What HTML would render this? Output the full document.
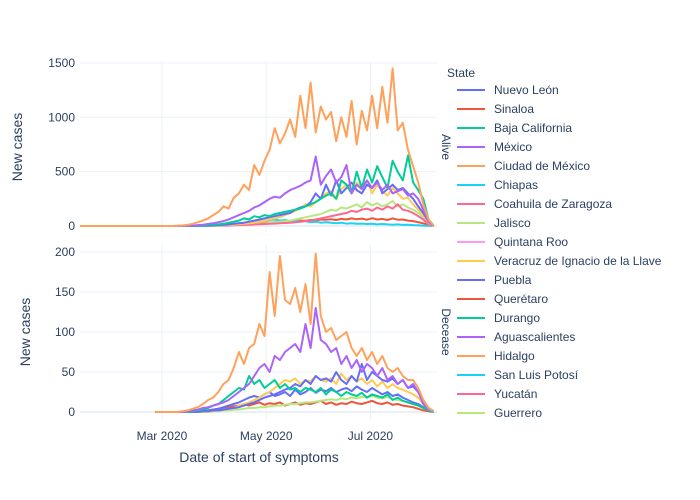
<!DOCTYPE html>
<html><head><meta charset="utf-8">
<style>
body{margin:0;background:#fff;}
svg{display:block;font-family:"Liberation Sans",sans-serif;fill:#2a3f5f;}
</style></head>
<body>
<svg id="chart" width="700" height="500" xmlns="http://www.w3.org/2000/svg">
<rect width="700" height="500" fill="#fff"/>
<g id="grid"></g>
<g id="series"></g>
<g id="axes"></g>
<g id="legend"></g>
</svg>
<script>
const states=["Nuevo León","Sinaloa","Baja California","México","Ciudad de México","Chiapas","Coahuila de Zaragoza","Jalisco","Quintana Roo","Veracruz de Ignacio de la Llave","Puebla","Querétaro","Durango","Aguascalientes","Hidalgo","San Luis Potosí","Yucatán","Guerrero"];
const colors=["#636EFA","#EF553B","#00CC96","#AB63FA","#FFA15A","#19D3F3","#FF6692","#B6E880","#FF97FF","#FECB52"];
const xTicks=[{label:"Mar 2020",day:48},{label:"May 2020",day:109},{label:"Jul 2020",day:170}];
const yTicksAlive=[0,500,1000,1500];
const yTicksDead=[0,50,100,150,200];
// sample days: 54,57,...,207 (days since 2020-01-13)
const aliveNL=[0,0,0,0,0,1,2,3,5,8,10,15,20,25,30,40,50,60,70,80,90,100,110,120,150,170,180,220,300,250,380,280,420,300,350,400,330,300,380,350,420,300,340,380,330,350,300,250,180,120,40,5];
const aliveSin=[0,0,0,0,1,2,3,4,5,8,10,12,15,18,20,22,25,28,30,32,35,38,40,42,45,50,48,55,52,60,58,62,55,65,60,70,62,68,58,72,60,65,55,70,58,60,50,45,35,25,10,2];
const aliveBC=[0,0,0,0,1,2,4,6,10,15,20,30,40,50,70,60,90,80,100,90,110,120,130,140,150,160,180,200,220,250,280,300,250,420,380,300,500,350,520,400,550,450,350,600,500,420,650,400,330,250,60,5];
const aliveMex=[0,0,1,2,4,8,12,18,25,35,45,60,80,100,120,140,170,190,220,250,270,260,300,330,350,370,400,420,640,380,460,520,400,450,560,300,380,340,420,350,400,330,380,300,320,340,280,300,250,150,40,5];
const aliveCDMX=[0,2,5,10,20,35,50,70,100,130,180,160,260,300,380,330,560,470,600,700,900,760,850,980,820,1200,900,1320,860,1100,980,1050,780,1000,820,1150,750,1060,880,1200,900,1280,950,1450,880,950,700,550,400,200,60,5];
const aliveChi=[0,0,0,0,0,1,2,3,5,8,10,15,20,25,30,35,40,45,50,55,60,50,55,45,50,40,45,35,40,30,35,30,25,30,22,25,20,22,18,20,15,18,15,12,15,10,12,8,6,4,2,0];
const aliveCoa=[0,0,0,0,0,0,1,1,2,3,4,5,6,8,10,12,14,16,18,20,22,25,28,30,35,40,45,50,60,70,80,90,100,110,120,140,130,150,160,140,170,150,180,160,200,150,140,120,90,60,15,2];
const aliveJal=[0,0,0,0,0,1,2,3,4,5,6,8,10,12,14,16,18,20,25,30,35,40,45,50,60,70,80,90,100,110,130,150,140,170,160,180,200,170,220,190,210,180,200,230,180,200,170,150,120,80,20,2];
const aliveVer=[0,0,0,0,0,0,1,2,3,5,8,10,12,15,20,25,30,40,50,60,70,80,100,120,140,160,200,180,220,260,300,320,250,340,380,300,400,350,420,300,380,320,280,350,300,250,260,200,150,100,30,3];
const deadNL=[0,0,0,0,0,0,1,1,2,2,3,4,5,6,8,10,12,15,18,20,22,25,28,30,35,32,40,35,45,40,42,38,50,40,35,45,38,60,40,50,45,40,38,42,35,40,30,32,25,15,5,1];
const deadSin=[0,0,0,0,0,1,1,2,3,4,5,6,7,8,10,8,10,12,9,11,10,12,8,10,12,9,11,10,12,14,10,12,9,11,10,13,11,10,12,14,11,10,12,9,10,8,7,6,4,2,1,0];
const deadBC=[0,0,0,0,1,2,3,5,8,10,15,20,25,30,28,45,35,40,30,35,40,30,35,28,30,25,30,28,25,30,22,28,25,20,25,22,20,24,18,22,20,18,22,15,18,14,12,10,8,5,2,0];
const deadMex=[0,0,0,1,2,3,5,6,8,10,12,15,20,25,30,35,45,55,60,50,70,65,75,80,85,75,110,80,130,90,85,75,80,60,70,55,65,50,60,55,45,55,40,45,35,40,30,35,25,10,3,1];
const deadCDMX=[0,0,1,2,4,6,10,15,18,25,35,40,55,75,60,80,85,110,95,175,120,195,140,135,155,125,160,110,198,120,100,105,90,95,100,80,70,80,65,75,60,70,55,50,55,45,40,40,30,15,5,1];
const deadJal=[0,0,0,0,0,0,0,0,1,1,2,2,3,3,4,5,5,6,6,7,8,8,9,10,10,11,12,12,13,14,15,16,15,17,16,18,17,19,18,20,18,17,19,16,15,14,12,10,8,5,2,0];
const deadVer=[0,0,0,0,0,0,0,1,1,2,3,4,5,8,10,12,15,18,22,25,30,35,40,38,42,35,40,38,45,40,38,42,35,48,40,45,38,42,35,40,32,38,30,35,30,28,25,22,18,10,3,0];
const deadPue=[0,0,0,0,0,0,1,2,3,4,6,8,10,12,15,18,20,18,22,25,20,22,25,20,28,22,25,30,24,28,26,30,25,28,30,26,32,28,25,30,26,22,25,20,22,18,15,12,10,6,2,0];

const NS="http://www.w3.org/2000/svg";
const X0=80,X1=437,D0=0,D1=209;
const xs=d=>X0+(d-D0)/(D1-D0)*(X1-X0);
const panels={alive:{top:62,bottom:232,y0:226,max:1500,ypx:163},dead:{top:245,bottom:420,y0:412,max:200,ypx:160}};
const ys=(p,v)=>panels[p].y0-v/panels[p].max*panels[p].ypx;
function mk(tag,attrs,parent,text){const e=document.createElementNS(NS,tag);for(const k in attrs)e.setAttribute(k,attrs[k]);if(text!==undefined)e.textContent=text;parent.appendChild(e);return e;}
const grid=document.getElementById('grid'),ser=document.getElementById('series'),axes=document.getElementById('axes'),leg=document.getElementById('legend');

for(const p of ["alive","dead"]){
  const P=panels[p];
  for(const t of xTicks){const l=mk('line',{x1:xs(t.day),x2:xs(t.day),y1:P.top,y2:P.bottom,stroke:'#EBF0F8','stroke-width':1},grid);
    
    }
  const ticks=p==="alive"?yTicksAlive:yTicksDead;
  for(const v of ticks){const y=ys(p,v);
    const l=mk('line',{x1:X0,x2:X1,y1:y,y2:y,stroke:'#EBF0F8','stroke-width':v===0?2:1},grid);
    
    
    const t=mk('text',{x:X0-5,y:y+4,'text-anchor':'end','font-size':12},axes,String(v));
    
    }
}
for(const t of xTicks){const e=mk('text',{x:xs(t.day),y:440,'text-anchor':'middle','font-size':12},axes,t.label);
  
  }

const alive=[[aliveSin,1],[aliveChi,5],[aliveJal,7],[aliveCoa,6],[aliveVer,9],[aliveNL,0],[aliveBC,2],[aliveMex,3],[aliveCDMX,4]];
const dead=[[deadSin,1],[deadJal,7],[deadPue,0],[deadVer,9],[deadNL,0],[deadBC,2],[deadMex,3],[deadCDMX,4]];
function draw(p,list,startDay){
  for(const [arr,ci] of list){
    let pts=[[xs(startDay),ys(p,0)]];
    arr.forEach((v,i)=>pts.push([xs(54+3*i),ys(p,v)]));
    const e=mk('polyline',{points:pts.map(q=>q[0].toFixed(1)+","+q[1].toFixed(1)).join(" "),fill:'none',stroke:colors[ci],'stroke-width':2,'stroke-linejoin':'round'},ser);
    
    
  }
}
draw("alive",alive,0);
draw("dead",dead,44);

let e;
e=mk('text',{x:0,y:0,'font-size':14,'text-anchor':'middle',transform:'translate(22,147) rotate(-90)'},axes,'New cases');


e=mk('text',{x:0,y:0,'font-size':14,'text-anchor':'middle',transform:'translate(30,332) rotate(-90)'},axes,'New cases');


e=mk('text',{x:259,y:462,'font-size':14,'text-anchor':'middle'},axes,'Date of start of symptoms');


e=mk('text',{x:0,y:0,'font-size':12,'text-anchor':'middle',transform:'translate(442,147) rotate(90)'},axes,'Alive');


e=mk('text',{x:0,y:0,'font-size':12,'text-anchor':'middle',transform:'translate(442,332) rotate(90)'},axes,'Decease');



e=mk('text',{x:447,y:77,'font-size':12},leg,'State');


states.forEach((s,i)=>{
  const y=90+i*19;
  const g=mk('g',{},leg);
  
  
  mk('line',{x1:457,x2:485,y1:y,y2:y,stroke:colors[i%10],'stroke-width':2},g);
  mk('text',{x:494,y:y+4,'font-size':12},g,s);
});
</script>
</body></html>
